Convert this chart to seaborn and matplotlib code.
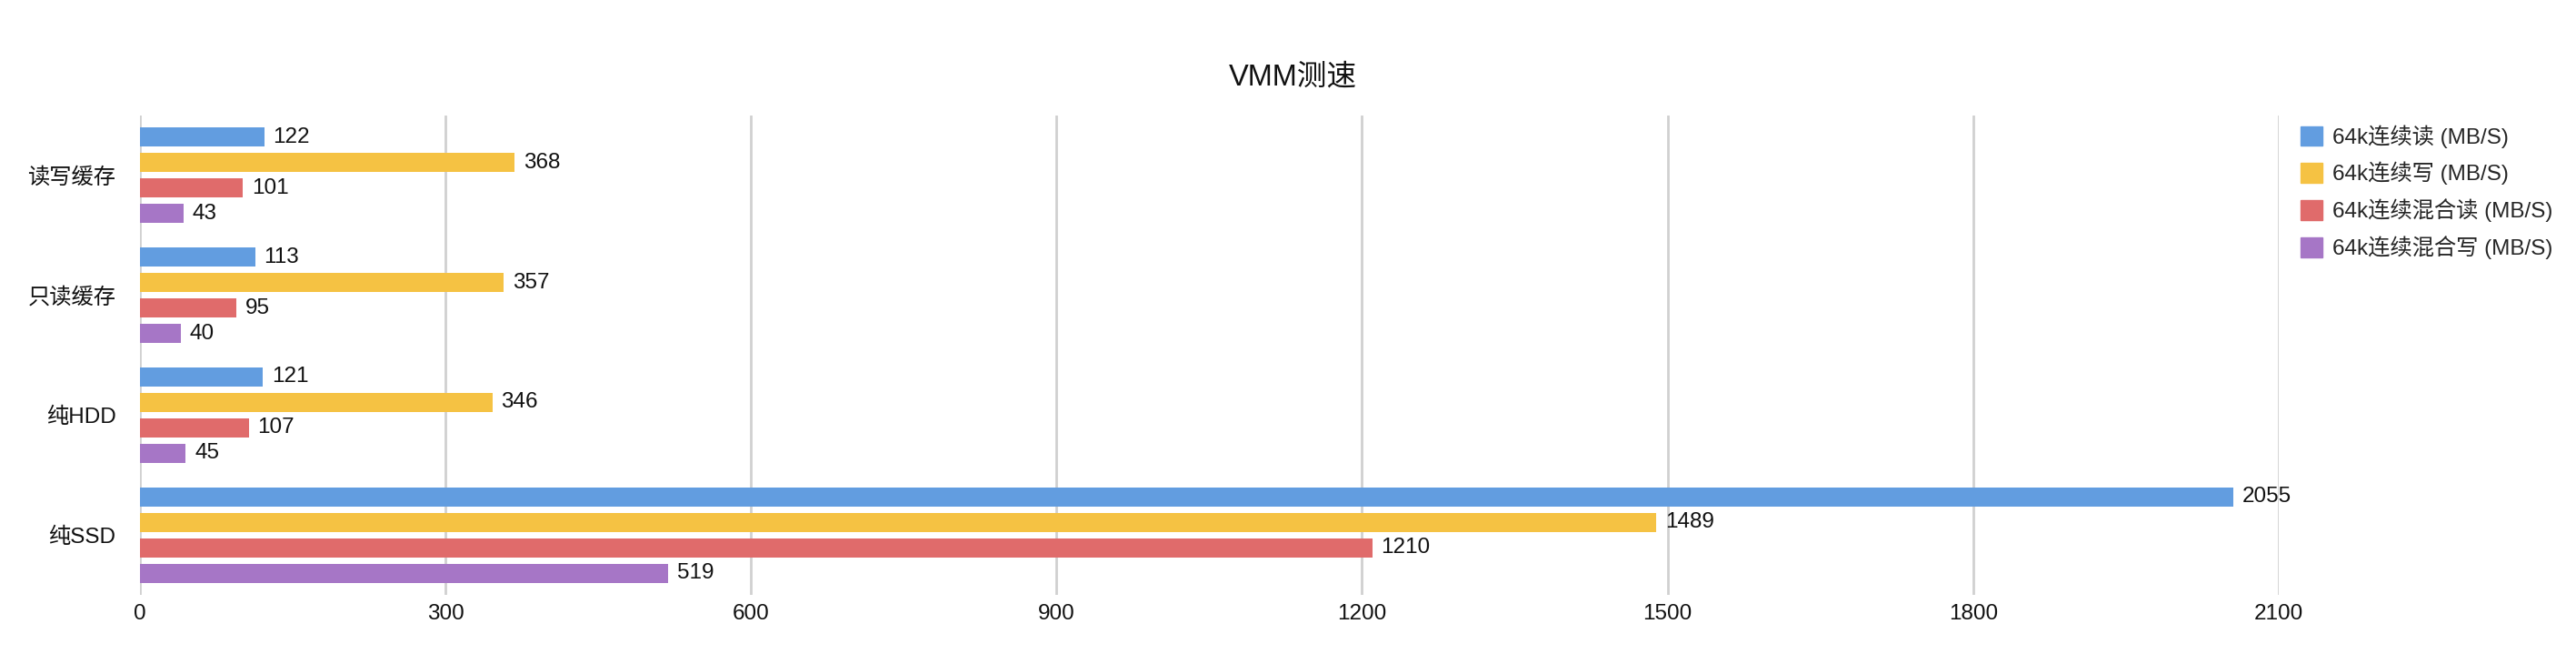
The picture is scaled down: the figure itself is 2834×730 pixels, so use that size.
import pandas as pd
import matplotlib
matplotlib.use("Agg")
import matplotlib.pyplot as plt
import seaborn as sns

# chart data
categories = ["读写缓存", "只读缓存", "纯HDD", "纯SSD"]
series_names = [
    "64k连续读 (MB/S)",
    "64k连续写 (MB/S)",
    "64k连续混合读 (MB/S)",
    "64k连续混合写 (MB/S)",
]
seq_read = [122, 113, 121, 2055]
seq_write = [368, 357, 346, 1489]
mixed_read = [101, 95, 107, 1210]
mixed_write = [43, 40, 45, 519]
x_ticks = [0, 300, 600, 900, 1200, 1500, 1800, 2100]

colors = ["#629DE0", "#F5C243", "#E06B6B", "#A676C6"]


def main():
    # long-form table for seaborn
    rows = []
    for name, vals in zip(series_names, [seq_read, seq_write, mixed_read, mixed_write]):
        for cat, v in zip(categories, vals):
            rows.append({"category": cat, "series": name, "value": v})
    df = pd.DataFrame(rows)

    sns.set_style("white")
    plt.rcParams["font.family"] = ["Liberation Sans", "Noto Sans CJK SC", "DejaVu Sans"]

    fig = plt.figure(figsize=(28.34, 7.30), dpi=100)
    ax = fig.add_axes([0.0543, 0.1041, 0.8303, 0.7219])

    sns.barplot(
        data=df, y="category", x="value", hue="series",
        order=categories, hue_order=series_names, palette=colors,
        orient="h", width=0.85, gap=0.25, saturation=1,
        edgecolor="none", linewidth=0, ax=ax,
    )

    for cont in ax.containers:
        ax.bar_label(cont, padding=7, fontsize=17.5, color="#111111")

    ax.set_xlim(0, 2100)
    ax.set_ylim(3.5, -0.5)
    ax.set_xticks(x_ticks)
    ax.set_xticklabels([str(t) for t in x_ticks], fontsize=17.5)
    ax.tick_params(axis="x", length=0, pad=7, colors="#111111")
    ax.tick_params(axis="y", length=0, pad=19, labelsize=17.5, colors="#111111")
    ax.set_xlabel("")
    ax.set_ylabel("")
    ax.grid(axis="x", color="#D0D0D0", linewidth=2)
    ax.grid(axis="y", visible=False)
    ax.set_axisbelow(True)
    for s in ax.spines.values():
        s.set_visible(False)

    ax.get_legend().remove()
    handles = [plt.Rectangle((0, 0), 1, 1, color=c) for c in colors]
    fig.legend(
        handles, series_names, loc="upper left",
        bbox_to_anchor=(0.893, 0.812), frameon=False, fontsize=17.5,
        handlelength=1.0, handleheight=1.0, handletextpad=0.45,
        labelspacing=0.62, borderpad=0, borderaxespad=0,
    )

    fig.suptitle("VMM测速", x=0.502, y=0.884, va="center", fontsize=23.5, color="#111111")

    fig.savefig("out.png", dpi=100)


if __name__ == "__main__":
    main()
